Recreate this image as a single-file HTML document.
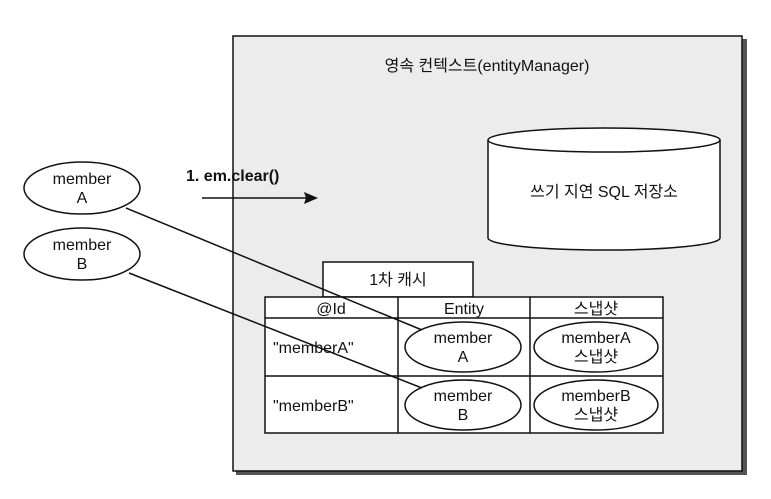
<!DOCTYPE html>
<html><head><meta charset="utf-8"><style>
body{margin:0;background:#fff;}
svg text{font-family:"Liberation Sans","Noto Sans CJK KR",sans-serif;font-size:16px;fill:#111;}
</style></head><body>
<svg width="771" height="494" xmlns="http://www.w3.org/2000/svg">
<rect x="236" y="39" width="511" height="436" fill="#555"/>
<rect x="233" y="36" width="509" height="435" fill="#ececec" stroke="#111" stroke-width="1.5"/>
<text x="487" y="71" text-anchor="middle">영속 컨텍스트(entityManager)</text>
<path d="M488,140 L488,238 A116,12 0 0 0 720,238 L720,140" fill="#fff" stroke="#111" stroke-width="1.5"/>
<ellipse cx="604" cy="140" rx="116" ry="12" fill="#fff" stroke="#111" stroke-width="1.5"/>
<text x="604" y="197" text-anchor="middle">쓰기 지연 SQL 저장소</text>
<text x="186" y="181" style="font-weight:bold">1. em.clear()</text>
<line x1="202" y1="198" x2="310" y2="198" stroke="#111" stroke-width="1.5"/>
<polygon points="318,198 304,192 306,198 304,204" fill="#111"/>
<rect x="323" y="262" width="150" height="35" fill="#fff" stroke="#111" stroke-width="1.5"/>
<text x="398" y="285" text-anchor="middle">1차 캐시</text>
<rect x="265" y="297" width="398" height="136" fill="#fff" stroke="#111" stroke-width="1.5"/>
<line x1="265" y1="318" x2="663" y2="318" stroke="#111" stroke-width="1.5"/>
<line x1="265" y1="376" x2="663" y2="376" stroke="#111" stroke-width="1.5"/>
<line x1="398" y1="297" x2="398" y2="433" stroke="#111" stroke-width="1.5"/>
<line x1="530" y1="297" x2="530" y2="433" stroke="#111" stroke-width="1.5"/>
<text x="331" y="314" text-anchor="middle">@Id</text>
<text x="464" y="314" text-anchor="middle">Entity</text>
<text x="596" y="314" text-anchor="middle">스냅샷</text>
<text x="273" y="353">"memberA"</text>
<text x="273" y="411">"memberB"</text>
<ellipse cx="463" cy="347" rx="58" ry="25" fill="#fff" stroke="#111" stroke-width="1.5"/>
<text x="463" y="343" text-anchor="middle">member</text><text x="463" y="362" text-anchor="middle">A</text>
<ellipse cx="463" cy="405" rx="58" ry="25" fill="#fff" stroke="#111" stroke-width="1.5"/>
<text x="463" y="401" text-anchor="middle">member</text><text x="463" y="420" text-anchor="middle">B</text>
<ellipse cx="596" cy="347" rx="62" ry="25" fill="#fff" stroke="#111" stroke-width="1.5"/>
<text x="596" y="343" text-anchor="middle">memberA</text><text x="596" y="362" text-anchor="middle">스냅샷</text>
<ellipse cx="596" cy="405" rx="62" ry="25" fill="#fff" stroke="#111" stroke-width="1.5"/>
<text x="596" y="401" text-anchor="middle">memberB</text><text x="596" y="420" text-anchor="middle">스냅샷</text>
<ellipse cx="82" cy="188" rx="58" ry="26" fill="#fff" stroke="#111" stroke-width="1.5"/>
<text x="82" y="184" text-anchor="middle">member</text><text x="82" y="203" text-anchor="middle">A</text>
<ellipse cx="82" cy="254" rx="58" ry="26" fill="#fff" stroke="#111" stroke-width="1.5"/>
<text x="82" y="250" text-anchor="middle">member</text><text x="82" y="269" text-anchor="middle">B</text>
<line x1="126" y1="208" x2="422" y2="330" stroke="#111" stroke-width="1.5"/>
<line x1="129" y1="273" x2="422" y2="388" stroke="#111" stroke-width="1.5"/>
</svg>
</body></html>
